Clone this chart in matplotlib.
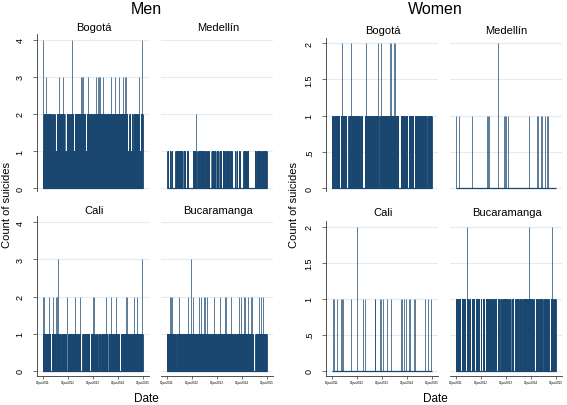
import numpy as np
import matplotlib
matplotlib.use('Agg')
import matplotlib.pyplot as plt

plt.rcParams['font.family'] = ['Liberation Sans', 'DejaVu Sans']

W, H = 567, 406
NAVY = '#1a476f'
GRID = '#e3ecef'

ndays = 1461  # 01jan2011 .. 31dec2014
tick_days = [0, 365, 730, 1096, 1461]
tick_labels = ['01jan2011', '01jan2012', '01jan2013', '01jan2014', '01jan2015']

# dates as decimal years
# "gaps" = stretches where a level that is otherwise always reached is not reached
# other lists = days (or (from, to) stretches) where the count reaches that level

# Men
bog_m_2_gaps = [2011.03, 2011.12, 2011.36, 2011.47, 2011.53, 2011.90, 2011.94, 2012.08, 2012.25,
                2012.73, 2012.99, 2013.43, 2014.40, 2014.44, 2014.53, 2014.60, 2014.83, 2014.89]
bog_m_3 = [2011.13, 2011.64, 2011.83, 2012.52, 2012.59, 2012.63, 2012.83, 2013.15, 2013.20, 2013.25,
           2013.29, 2013.41, 2013.72, 2013.89, 2014.07, 2014.23, 2014.28, 2014.32, 2014.85]
bog_m_4 = [2011.0, 2012.16, 2014.99]

med_m_1 = [(2011.03, 2011.07), (2011.13, 2011.15), (2011.19, 2011.21), (2011.35, 2011.40),
           (2011.43, 2011.50), (2011.53, 2011.61), (2011.67, 2011.70), (2011.73, 2011.75),
           (2011.80, 2011.81), (2011.86, 2011.87), (2012.05, 2012.16), (2012.23, 2012.26),
           (2012.29, 2012.40), (2012.43, 2012.52), (2012.56, 2012.58), (2012.62, 2012.65),
           (2012.70, 2012.71), (2012.79, 2012.86), (2012.90, 2012.95), (2012.99, 2013.05),
           (2013.11, 2013.13), (2013.17, 2013.19), (2013.25, 2013.29), (2013.33, 2013.36),
           (2013.41, 2013.45), (2013.49, 2013.52), (2013.57, 2013.60), (2013.73, 2013.75),
           (2013.79, 2013.80), (2013.89, 2013.92), (2014.07, 2014.09), (2014.13, 2014.15),
           (2014.18, 2014.20), (2014.23, 2014.25), (2014.53, 2014.56), (2014.60, 2014.65),
           (2014.68, 2014.72), (2014.76, 2014.80), (2014.83, 2014.85), (2014.89, 2014.93),
           (2014.96, 2015.0)]
med_m_2 = [2012.16]

cal_m_1_gaps = [2011.33, 2011.72, 2011.95, 2011.99, 2012.52, 2012.56, 2012.89, 2013.11, 2013.20,
                2013.32, 2013.62, 2014.09]
cal_m_2 = [2011.03, 2011.07, 2011.27, 2011.43, 2011.53, 2011.57, 2011.97, 2012.28, 2012.51,
           2013.0, 2013.07, 2013.55, 2013.75, 2013.92, 2014.33, 2014.39, 2014.65, 2014.76]
cal_m_3 = [2011.63, 2014.99]

buc_m_1_gaps = [2011.36, 2013.03, 2014.47, 2014.52]
buc_m_2 = [2011.13, 2011.19, 2011.23, 2011.49, 2011.85, 2011.99, 2012.04, 2012.29, 2012.36,
           2012.49, 2012.55, 2012.60, 2012.88, 2013.13, 2013.32, 2013.36, 2013.59, 2013.89,
           2013.96, 2014.09, 2014.15, 2014.25, 2014.36, 2014.40, 2014.69, 2014.76, 2014.87]
buc_m_3 = [2011.99]

# Women
bog_w_1_gaps = [2011.08, 2011.33, 2011.60, 2011.64, 2012.12, 2012.25, 2012.28, 2012.31, 2012.88,
                2013.55, 2013.70, 2013.74, 2013.95, 2014.05, 2014.30, 2014.55, 2014.80]
bog_w_2 = [2011.43, 2011.77, 2012.36, 2012.85, 2012.98, 2013.34, 2013.38, 2013.50, 2013.54]

med_w_1 = [2011.03, 2011.15, 2011.64, 2012.27, 2012.31, 2012.35, 2012.95, 2012.99, 2013.03,
           2013.09, 2013.95, 2014.27, 2014.31, 2014.41, 2014.44, 2014.59, 2014.64, 2014.68]
med_w_2 = [2012.70]

cal_w_1 = [2011.07, 2011.11, 2011.20, 2011.36, 2011.40, 2011.44, 2011.76, 2012.24, 2012.33,
           2012.72, 2012.75, 2012.93, 2012.97, 2013.04, 2013.20, 2013.36, 2013.79, 2013.83,
           2013.91, 2013.96, 2014.09, 2014.13, 2014.29, 2014.33, 2014.72, 2014.85, 2014.97]
cal_w_2 = [2012.0]

buc_w_1_gaps = [2011.07, 2011.22, 2011.41, 2011.52, 2011.61, 2011.77, 2011.97, 2012.06, 2012.17,
                2012.35, 2012.51, 2012.66, 2012.76, 2012.87, 2013.11, 2013.22, 2013.33, 2013.39,
                2013.52, 2013.64, 2014.11, 2014.17, 2014.31, 2014.48, 2014.55, 2014.71, 2014.77,
                2014.91]
buc_w_2 = [2011.44, 2013.93, 2014.84]


def day(y):
    return int(min(max(round((y - 2011) * 365.25), 0), ndays - 1))


def build(dense, sparse):
    c = np.zeros(ndays)
    for lev, gaps in dense.items():
        on = np.ones(ndays, bool)
        for g in gaps:
            d = day(g)
            on[max(d - 9, 0):d + 10] = False
        c[on] = np.maximum(c[on], lev)
    for lev, pts in sparse.items():
        for p in pts:
            a, b = p if isinstance(p, tuple) else (p, p)
            c[day(a):day(b) + 1] = np.maximum(c[day(a):day(b) + 1], lev)
    return c


men = {
    'Bogotá': build({1: [], 2: bog_m_2_gaps}, {3: bog_m_3, 4: bog_m_4}),
    'Medellín': build({}, {1: med_m_1, 2: med_m_2}),
    'Cali': build({1: cal_m_1_gaps}, {2: cal_m_2, 3: cal_m_3}),
    'Bucaramanga': build({1: buc_m_1_gaps}, {2: buc_m_2, 3: buc_m_3}),
}
women = {
    'Bogotá': build({1: bog_w_1_gaps}, {2: bog_w_2}),
    'Medellín': build({}, {1: med_w_1, 2: med_w_2}),
    'Cali': build({}, {1: cal_w_1, 2: cal_w_2}),
    'Bucaramanga': build({1: buc_w_1_gaps}, {2: buc_w_2}),
}

fig = plt.figure(figsize=(W / 100, H / 100), dpi=100)


def px_axes(x0, y0, x1, y1):
    return fig.add_axes([x0 / W, 1 - y1 / H, (x1 - x0) / W, (y1 - y0) / H])


def panel(box, counts, title, title_y, left, bottom, ylim, yt, ytl):
    ax = px_axes(*box)
    ax.set_xlim(-90, 1553)
    ax.set_ylim(*ylim)
    ax.set_yticks(yt)
    ax.yaxis.grid(True, color=GRID, lw=0.8)
    ax.set_axisbelow(True)
    days = np.arange(ndays)
    nz = counts > 0
    ax.hlines(0, 0, ndays - 1, color=NAVY, lw=0.9)
    ax.vlines(days[nz], 0, counts[nz], color=NAVY, lw=0.5)
    for s in ['top', 'right']:
        ax.spines[s].set_visible(False)
    ax.spines['left'].set_visible(left)
    ax.spines['bottom'].set_visible(bottom)
    for s in ['left', 'bottom']:
        ax.spines[s].set_color('#333333')
        ax.spines[s].set_linewidth(0.6)
    if left:
        ax.set_yticklabels(ytl, rotation=90, va='center', fontsize=6.5)
        ax.tick_params(axis='y', length=3, width=0.5, color='#333333', pad=5.5)
    else:
        ax.tick_params(axis='y', left=False, labelleft=False)
    if bottom:
        ax.set_xticks(tick_days)
        ax.set_xticklabels(tick_labels, fontsize=2.2)
        ax.tick_params(axis='x', length=2, width=0.5, color='#333333', pad=1)
    else:
        ax.tick_params(axis='x', bottom=False, labelbottom=False)
    cx = (box[0] + box[2]) / 2 + 1
    fig.text(cx / W, 1 - title_y / H, title, ha='center', va='center', fontsize=8)
    return ax


names = ['Bogotá', 'Medellín', 'Cali', 'Bucaramanga']

# Men block
men_cols = [36.5, 160.5]
men_rows = [(35, 192, (-0.081, 4.162), 28), (217, 377, (-0.143, 4.17), 211)]
for i, name in enumerate(names):
    r, c = divmod(i, 2)
    y0, y1, yl, ty = men_rows[r]
    x0 = men_cols[c]
    panel((x0, y0, x0 + 112.5, y1), men[name], name, ty, c == 0, r == 1, yl,
          [0, 1, 2, 3, 4], ['0', '1', '2', '3', '4'])

# Women block
w_cols = [325.5, 449.5]
w_rows = [(39, 192, (-0.041, 2.073), 31), (222, 377, (-0.074, 2.079), 213)]
for i, name in enumerate(names):
    r, c = divmod(i, 2)
    y0, y1, yl, ty = w_rows[r]
    x0 = w_cols[c]
    panel((x0, y0, x0 + 112.5, y1), women[name], name, ty, c == 0, r == 1, yl,
          [0, 0.5, 1, 1.5, 2], ['0', '.5', '1', '1.5', '2'])

fig.text(146 / W, 1 - 9 / H, 'Men', ha='center', va='center', fontsize=11.5)
fig.text(435 / W, 1 - 9 / H, 'Women', ha='center', va='center', fontsize=11.5)
fig.text(7 / W, 1 - 205 / H, 'Count of suicides', ha='center', va='center', rotation=90, fontsize=8)
fig.text(294 / W, 1 - 205 / H, 'Count of suicides', ha='center', va='center', rotation=90, fontsize=8)
fig.text(146 / W, 1 - 399 / H, 'Date', ha='center', va='center', fontsize=8.5)
fig.text(435 / W, 1 - 399 / H, 'Date', ha='center', va='center', fontsize=8.5)

fig.savefig('out.png', dpi=100, facecolor='white')
